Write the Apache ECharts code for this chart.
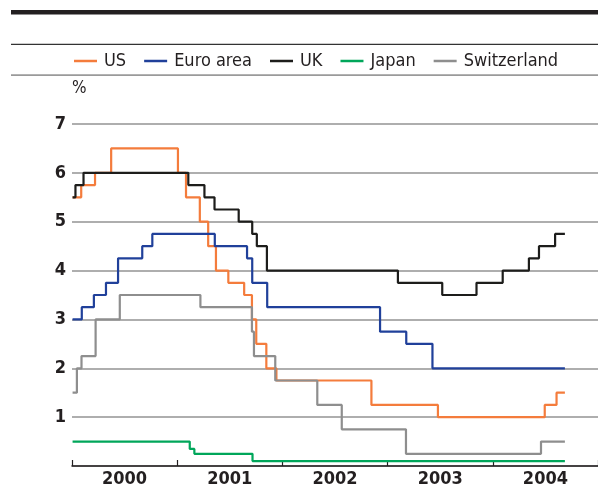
<!DOCTYPE html>
<html><head><meta charset="utf-8">
<script src="https://cdn.jsdelivr.net/npm/echarts@6/dist/echarts.min.js"></script>
<style>html,body{margin:0;padding:0;background:#fff}#c{width:598px;height:488px}</style>
</head><body><div id="c"></div>
<script>
const FONT = "'DejaVu Sans Condensed','Liberation Sans Narrow','DejaVu Sans',sans-serif";
const years = ['2000', '2001', '2002', '2003', '2004'];
const yMin = 0, yMax = 7, yStep = 1;

const seriesNames = ['US', 'Euro area', 'UK', 'Japan', 'Switzerland'];
const seriesColors = ['#f47c3c', '#20409a', '#1d1d1b', '#00a65a', '#8e8e8e'];

const usDates = ['2000-01-03','2000-02-02','2000-03-21','2000-05-16','2001-01-03','2001-01-31','2001-03-20','2001-04-18','2001-05-15','2001-06-27','2001-08-21','2001-09-17','2001-10-02','2001-11-06','2001-12-11','2002-11-06','2003-06-25','2004-06-30','2004-08-10','2004-09-08'];
const usRates = [5.5,5.75,6.0,6.5,6.0,5.5,5.0,4.5,4.0,3.75,3.5,3.0,2.5,2.0,1.75,1.25,1.0,1.25,1.5,1.5];

const euroDates = ['2000-01-03','2000-02-04','2000-03-17','2000-04-28','2000-06-09','2000-09-01','2000-10-06','2001-05-11','2001-08-31','2001-09-18','2001-11-09','2002-12-06','2003-03-07','2003-06-06','2004-09-08'];
const euroRates = [3.0,3.25,3.5,3.75,4.25,4.5,4.75,4.5,4.25,3.75,3.25,2.75,2.5,2.0,2.0];

const ukDates = ['2000-01-03','2000-01-13','2000-02-10','2001-02-08','2001-04-05','2001-05-10','2001-08-02','2001-09-18','2001-10-04','2001-11-08','2003-02-06','2003-07-10','2003-11-06','2004-02-05','2004-05-06','2004-06-10','2004-08-05','2004-09-08'];
const ukRates = [5.5,5.75,6.0,5.75,5.5,5.25,5.0,4.75,4.5,4.0,3.75,3.5,3.75,4.0,4.25,4.5,4.75,4.75];

const japanDates = ['2000-01-03','2001-02-13','2001-03-01','2001-09-19','2004-09-08'];
const japanRates = [0.5,0.35,0.25,0.1,0.1];

const swissDates = ['2000-01-03','2000-01-18','2000-02-03','2000-03-23','2000-06-15','2001-03-22','2001-09-17','2001-09-24','2001-12-07','2002-05-02','2002-07-26','2003-03-06','2004-06-17','2004-09-08'];
const swissRates = [1.5,2.0,2.25,3.0,3.5,3.25,2.75,2.25,1.75,1.25,0.75,0.25,0.5,0.5];

const allDates = [usDates, euroDates, ukDates, japanDates, swissDates];
const allRates = [usRates, euroRates, ukRates, japanRates, swissRates];

const chart = echarts.init(document.getElementById('c'), null, {renderer: 'canvas'});

const series = seriesNames.map((name, i) => ({
  name: name,
  type: 'line',
  step: 'end',
  xAxisIndex: 0,
  symbol: 'none',
  animation: false,
  lineStyle: {color: seriesColors[i], width: 2.2},
  itemStyle: {color: seriesColors[i]},
  data: allDates[i].map((d, k) => [d, allRates[i][k]])
}));

chart.setOption({
  backgroundColor: '#fff',
  animation: false,
  grid: {left: 72, right: 0, top: 124, bottom: 22, containLabel: false},
  legend: {
    data: seriesNames,
    left: 69, top: 47,
    icon: 'rect',
    itemWidth: 23, itemHeight: 2.5, itemGap: 18,
    textStyle: {fontFamily: FONT, fontSize: 18, color: '#231f20', padding: [0, 0, 0, 2]}
  },
  xAxis: [
    {type: 'time', min: '2000-01-01', max: '2005-01-01', show: false},
    {type: 'category', data: years, boundaryGap: true, position: 'bottom',
     axisLine: {show: true, lineStyle: {color: '#231f20', width: 1.5}},
     axisTick: {show: true, inside: true, length: 6, lineStyle: {color: '#231f20', width: 1.2}},
     axisLabel: {fontFamily: FONT, fontSize: 18, fontWeight: 'bold', color: '#231f20', margin: 4},
     splitLine: {show: false}}
  ],
  yAxis: {
    type: 'value', min: yMin, max: yMax, interval: yStep,
    axisLine: {show: false}, axisTick: {show: false},
    axisLabel: {fontFamily: FONT, fontSize: 18, fontWeight: 'bold', color: '#231f20', margin: 6,
      formatter: v => v === 0 ? '' : String(v)},
    splitLine: {show: true, lineStyle: {color: '#939393', width: 1.5}}
  },
  graphic: [
    {type: 'rect', shape: {x: 11, y: 10, width: 587, height: 4.6}, style: {fill: '#231f20'}, silent: true},
    {type: 'rect', shape: {x: 11, y: 43.8, width: 587, height: 1.1}, style: {fill: '#333'}, silent: true},
    {type: 'rect', shape: {x: 11, y: 74.3, width: 587, height: 1.6}, style: {fill: '#9a9a9a'}, silent: true},
    {type: 'text', left: 72, top: 80, style: {text: '%', fontFamily: FONT, fontSize: 17, fill: '#231f20'}, silent: true}
  ],
  series: series
});
</script>
</body></html>
